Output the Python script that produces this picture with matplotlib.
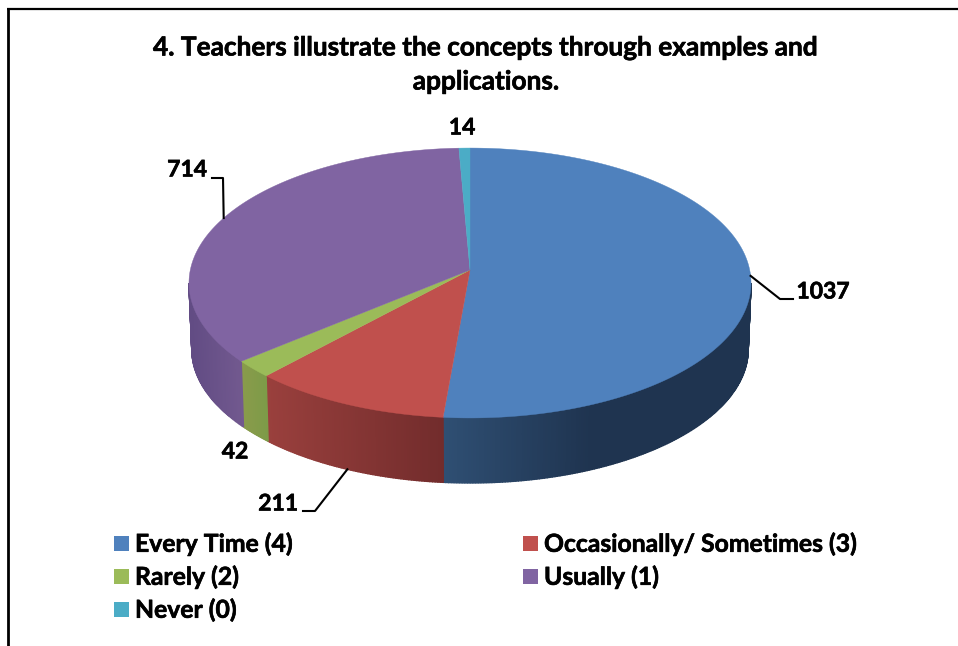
import numpy as np
import matplotlib
matplotlib.use('Agg')
import matplotlib.pyplot as plt
import matplotlib.patheffects as pe
from matplotlib.colors import to_rgb
from matplotlib.patches import Rectangle

# Data
categories = ['Every Time (4)', 'Occasionally/ Sometimes (3)', 'Rarely (2)', 'Usually (1)', 'Never (0)']
values = [1037, 211, 42, 714, 14]
colors = ['#4f81bd', '#c0504d', '#9bbb59', '#8064a2', '#4bacc6']
title_lines = ['4. Teachers illustrate the concepts through examples and', 'applications.']

# Wall shading per slice: (x_start, color_start, x_end, color_end)
wall_shades = [
    (443, '#2f4f73', 590, '#1f3450'),
    (265, '#9a403d', 442, '#722c2c'),
    (240, '#8a9b4b', 266, '#7d9b48'),
    (190, '#624c84', 240, '#72598f'),
    (190, '#3a8296', 240, '#3a8296'),
]

# Pie geometry in pixels
cx, cy = 470, 270
rx, ry = 279.7, 133.7
k = 0.0963  # perspective
depth = 66.5
bottom_scale = 0.99

plt.rcParams['font.family'] = ['Lato', 'DejaVu Sans']
plt.rcParams['font.weight'] = 'bold'

# the reference text is heavier than Lato Bold
heavy = [pe.withStroke(linewidth=0.45, foreground='black')]


def project(theta, lower=False):
    # theta in degrees clockwise from the top of the pie
    t = np.radians(theta)
    x, y = np.sin(t), np.cos(t)
    d = 1 + k * y
    px, py = rx * x / d, ry * y / d
    if lower:
        return cx + px * bottom_scale, cy - py * bottom_scale + depth
    return cx + px, cy - py


fig = plt.figure(figsize=(9.58, 6.46), dpi=100)
ax = fig.add_axes([0, 0, 1, 1])
ax.set_xlim(0, 958)
ax.set_ylim(646, 0)
ax.axis('off')

# slice angles from the values
vals = np.array(values, dtype=float)
edges = np.concatenate([[0], np.cumsum(vals) / vals.sum() * 360])
mids = (edges[:-1] + edges[1:]) / 2

# front wall, only the part facing the viewer
vis_a = np.degrees(np.arccos(-k))
vis_b = 360 - vis_a
for i in range(len(values)):
    a, b = max(edges[i], vis_a), min(edges[i + 1], vis_b)
    if a >= b:
        continue
    x0, c0, x1, c1 = wall_shades[i]
    c0, c1 = np.array(to_rgb(c0)), np.array(to_rgb(c1))
    n = max(int((b - a) * 2), 1)
    steps = np.linspace(a, b, n + 1)
    for t0, t1 in zip(steps[:-1], steps[1:]):
        p0 = project(t0)
        p1 = project(t1)
        q0 = project(t0, True)
        q1 = project(t1, True)
        f = np.clip(((p0[0] + p1[0]) / 2 - x0) / (x1 - x0), 0, 1)
        col = c0 + (c1 - c0) * f
        ax.fill([p0[0], p1[0], q1[0], q0[0]], [p0[1], p1[1], q1[1], q0[1]],
                facecolor=col, edgecolor=col, lw=1.0, zorder=2 + i * 0.01)

# top face
for i in range(len(values)):
    th = np.linspace(edges[i], edges[i + 1], max(int(edges[i + 1] - edges[i]) * 2, 4))
    xs, ys = project(th)
    ax.fill(np.r_[cx, xs], np.r_[cy, ys], color=colors[i], lw=0.3, zorder=3)

# leader lines start on the slice rim
p = project(mids[0])
ax.plot([p[0], 780, 793], [p[1], 299, 299], color='black', lw=1.5, zorder=4)
p = project(mids[1], True)
ax.plot([p[0], 315, 303], [p[1], 511, 511], color='black', lw=1.5, zorder=4)
p = project(mids[3])
ax.plot([p[0], 223, 212], [p[1], 178, 178], color='black', lw=1.5, zorder=4)

# data labels
label_pos = [(823, 292), (278, 504), (235, 452), (187, 170), (462, 128)]
for v, (lx, ly) in zip(values, label_pos):
    ax.text(lx, ly, str(v), fontsize=16.5, ha='center', va='center', color='black',
            path_effects=heavy)

# title
ax.text(486, 47.5, title_lines[0], fontsize=18.9, ha='center', va='center', color='black',
        path_effects=heavy)
ax.text(486, 81.5, title_lines[1], fontsize=18.9, ha='center', va='center', color='black',
        path_effects=heavy)

# legend
legend_pos = [(114, 543.5), (523, 543.5), (114, 576.5), (523, 576.5), (114, 609.5)]
for i, (lx, ly) in enumerate(legend_pos):
    ax.add_patch(Rectangle((lx, ly - 7.5), 15, 15, color=colors[i], lw=0))
    ax.text(lx + 21, ly + 0.5, categories[i], fontsize=17.8, ha='left', va='center', color='black',
            path_effects=heavy)

# frame of the original screenshot
ax.plot([8, 8], [646, 9], color='black', lw=2, solid_capstyle='butt')
ax.plot([7, 958], [9, 9], color='black', lw=1.6, solid_capstyle='butt')

fig.savefig('out.png', dpi=100)
